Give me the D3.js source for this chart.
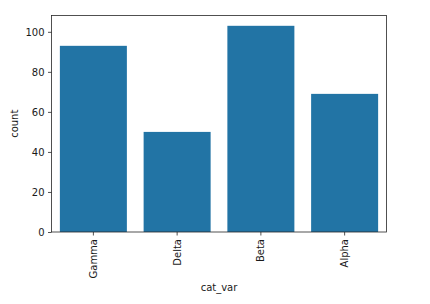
<!DOCTYPE html>
<html>
<head>
<meta charset="utf-8">
<script src="https://cdn.jsdelivr.net/npm/d3@7"></script>
<style>
  body { margin: 0; background: #fff; }
  text { font-family: 'DejaVu Sans', sans-serif; fill: #1a1a1a; }
</style>
</head>
<body>
<div id="chart"></div>
<script>
const categories = ['Gamma', 'Delta', 'Beta', 'Alpha']
const counts = [93, 50, 103, 69]
const yTicks = [0, 20, 40, 60, 80, 100]

const width = 430
const height = 304
const margin = { top: 15.5, right: 43.5, bottom: 72, left: 51.5 }
const innerW = width - margin.left - margin.right
const innerH = height - margin.top - margin.bottom

const svg = d3.select('#chart').append('svg')
  .attr('width', width)
  .attr('height', height)

const g = svg.append('g')
  .attr('transform', `translate(${margin.left}, ${margin.top})`)

const x = d3.scaleBand()
  .domain(categories)
  .range([0, innerW])
  .paddingInner(0.2)
  .paddingOuter(0.1)

const y = d3.scaleLinear()
  .domain([0, d3.max(counts) * 1.05])
  .range([innerH, 0])

// bars
g.selectAll('rect.bar')
  .data(categories)
  .enter().append('rect')
  .attr('class', 'bar')
  .attr('x', d => x(d))
  .attr('width', x.bandwidth())
  .attr('y', (d, i) => y(counts[i]))
  .attr('height', (d, i) => innerH - y(counts[i]))
  .attr('fill', '#2274a5')

// axes
const yAxis = g.append('g')
  .call(d3.axisLeft(y).tickValues(yTicks).tickSize(3.5).tickPadding(3.5))
yAxis.select('.domain').remove()
yAxis.selectAll('text').style('font-size', '10px')

const xAxis = g.append('g')
  .attr('transform', `translate(0, ${innerH})`)
  .call(d3.axisBottom(x).tickSize(3.5).tickPadding(3.5))
xAxis.select('.domain').remove()
xAxis.selectAll('text')
  .style('font-size', '10px')
  .attr('transform', 'rotate(-90)')
  .attr('text-anchor', 'end')
  .attr('dy', '0.35em')
  .attr('x', -7)
  .attr('y', 0)

g.selectAll('.tick line').attr('stroke', '#262626').attr('stroke-width', 0.8)

// frame
g.append('rect')
  .attr('width', innerW)
  .attr('height', innerH)
  .attr('fill', 'none')
  .attr('stroke', '#262626')
  .attr('stroke-width', 0.8)

// labels
svg.append('text')
  .attr('x', margin.left + innerW / 2)
  .attr('y', 291)
  .attr('text-anchor', 'middle')
  .style('font-size', '10px')
  .text('cat_var')

svg.append('text')
  .attr('transform', `translate(18, ${margin.top + innerH / 2}) rotate(-90)`)
  .attr('text-anchor', 'middle')
  .style('font-size', '10px')
  .text('count')
</script>
</body>
</html>
